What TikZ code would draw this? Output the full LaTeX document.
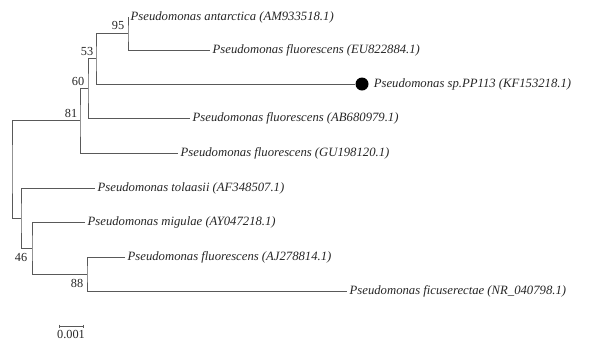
\documentclass[tikz,border=0pt]{standalone}
\usepackage{fontspec}
\setmainfont{Liberation Serif}
\usetikzlibrary{positioning}

\tikzset{
  branch/.style = {draw = black!65, line width = 0.75pt},
  leaf/.style = {anchor = west, inner sep = 2.5pt, font = \itshape\fontsize{12.7}{14}\selectfont, text = black!85},
  boot/.style = {inner sep = 0pt, font = \fontsize{12.3}{14}\selectfont, text = black!85},
  tipdot/.style = {circle, fill = black, minimum size = 13pt, inner sep = 0pt}
}

\begin{document}
\begin{tikzpicture}[x = 1pt, y = -1pt]
	 \useasboundingbox (0, 0) rectangle (589, 354);
	 
	 % inner nodes of the tree
	 \coordinate (root) at (12, 169);
	 \coordinate (n81) at (80, 120.7);
	 \coordinate (n60) at (88, 88.4);
	 \coordinate (n53) at (96, 58.75);
	 \coordinate (n95) at (128, 33.5);
	 \coordinate (nt) at (21, 218);
	 \coordinate (n46) at (32, 248);
	 \coordinate (n88) at (87, 274);
	 
	 % leaves
	 \node[leaf] (ant) at (128, 17) {Pseudomonas antarctica (AM933518.1)};
	 \node[leaf] (eu) at (210, 50) {Pseudomonas fluorescens (EU822884.1)};
	 \node[tipdot] (pp) at (362, 84) {};
	 \node[leaf, right = 2.5pt of pp.east, anchor = west] (ppl) {Pseudomonas sp.PP113 (KF153218.1)};
	 \node[leaf] (ab) at (190, 118) {Pseudomonas fluorescens (AB680979.1)};
	 \node[leaf] (gu) at (178, 153) {Pseudomonas fluorescens (GU198120.1)};
	 \node[leaf] (tol) at (95, 188) {Pseudomonas tolaasii (AF348507.1)};
	 \node[leaf] (mig) at (85, 222) {Pseudomonas migulae (AY047218.1)};
	 \node[leaf] (aj) at (125, 257) {Pseudomonas fluorescens (AJ278814.1)};
	 \node[leaf] (fic) at (347, 291) {Pseudomonas ficuserectae (NR\_040798.1)};
	 
	 % branches
	 \draw[branch] (ant.west) -| (n95) |- (eu.west);
	 \draw[branch] (n95) -| (n53) |- (pp.west);
	 \draw[branch] (n53) -| (n60) |- (ab.west);
	 \draw[branch] (n60) -| (n81) |- (gu.west);
	 \draw[branch] (n81) -| (root) |- (nt);
	 \draw[branch] (tol.west) -| (nt) |- (n46);
	 \draw[branch] (mig.west) -| (n46) |- (n88);
	 \draw[branch] (aj.west) -| (n88) |- (fic.west);
	 
	 % bootstrap values
	 \node[boot] (b95) at (118, 25) {95};
	 \node[boot] (b53) at (87, 51) {53};
	 \node[boot] (b60) at (78, 81) {60};
	 \node[boot] (b81) at (71, 113) {81};
	 \node[boot] (b46) at (21, 257) {46};
	 \node[boot] (b88) at (77, 283) {88};
	 
	 % scale bar
	 \coordinate (sa) at (59, 326);
	 \coordinate (sb) at (83, 326);
	 \coordinate (sm) at (71, 326);
	 \draw[branch] (sa) -- (sb);
	 \draw[branch, line width = 0.5pt] ([yshift = 1.5pt] sa) -- ([yshift = -1.5pt] sa);
	 \draw[branch, line width = 0.5pt] ([yshift = 1.5pt] sb) -- ([yshift = -1.5pt] sb);
	 \node[boot, below = 4pt of sm] (scale) {0.001};
\end{tikzpicture}
\end{document}
